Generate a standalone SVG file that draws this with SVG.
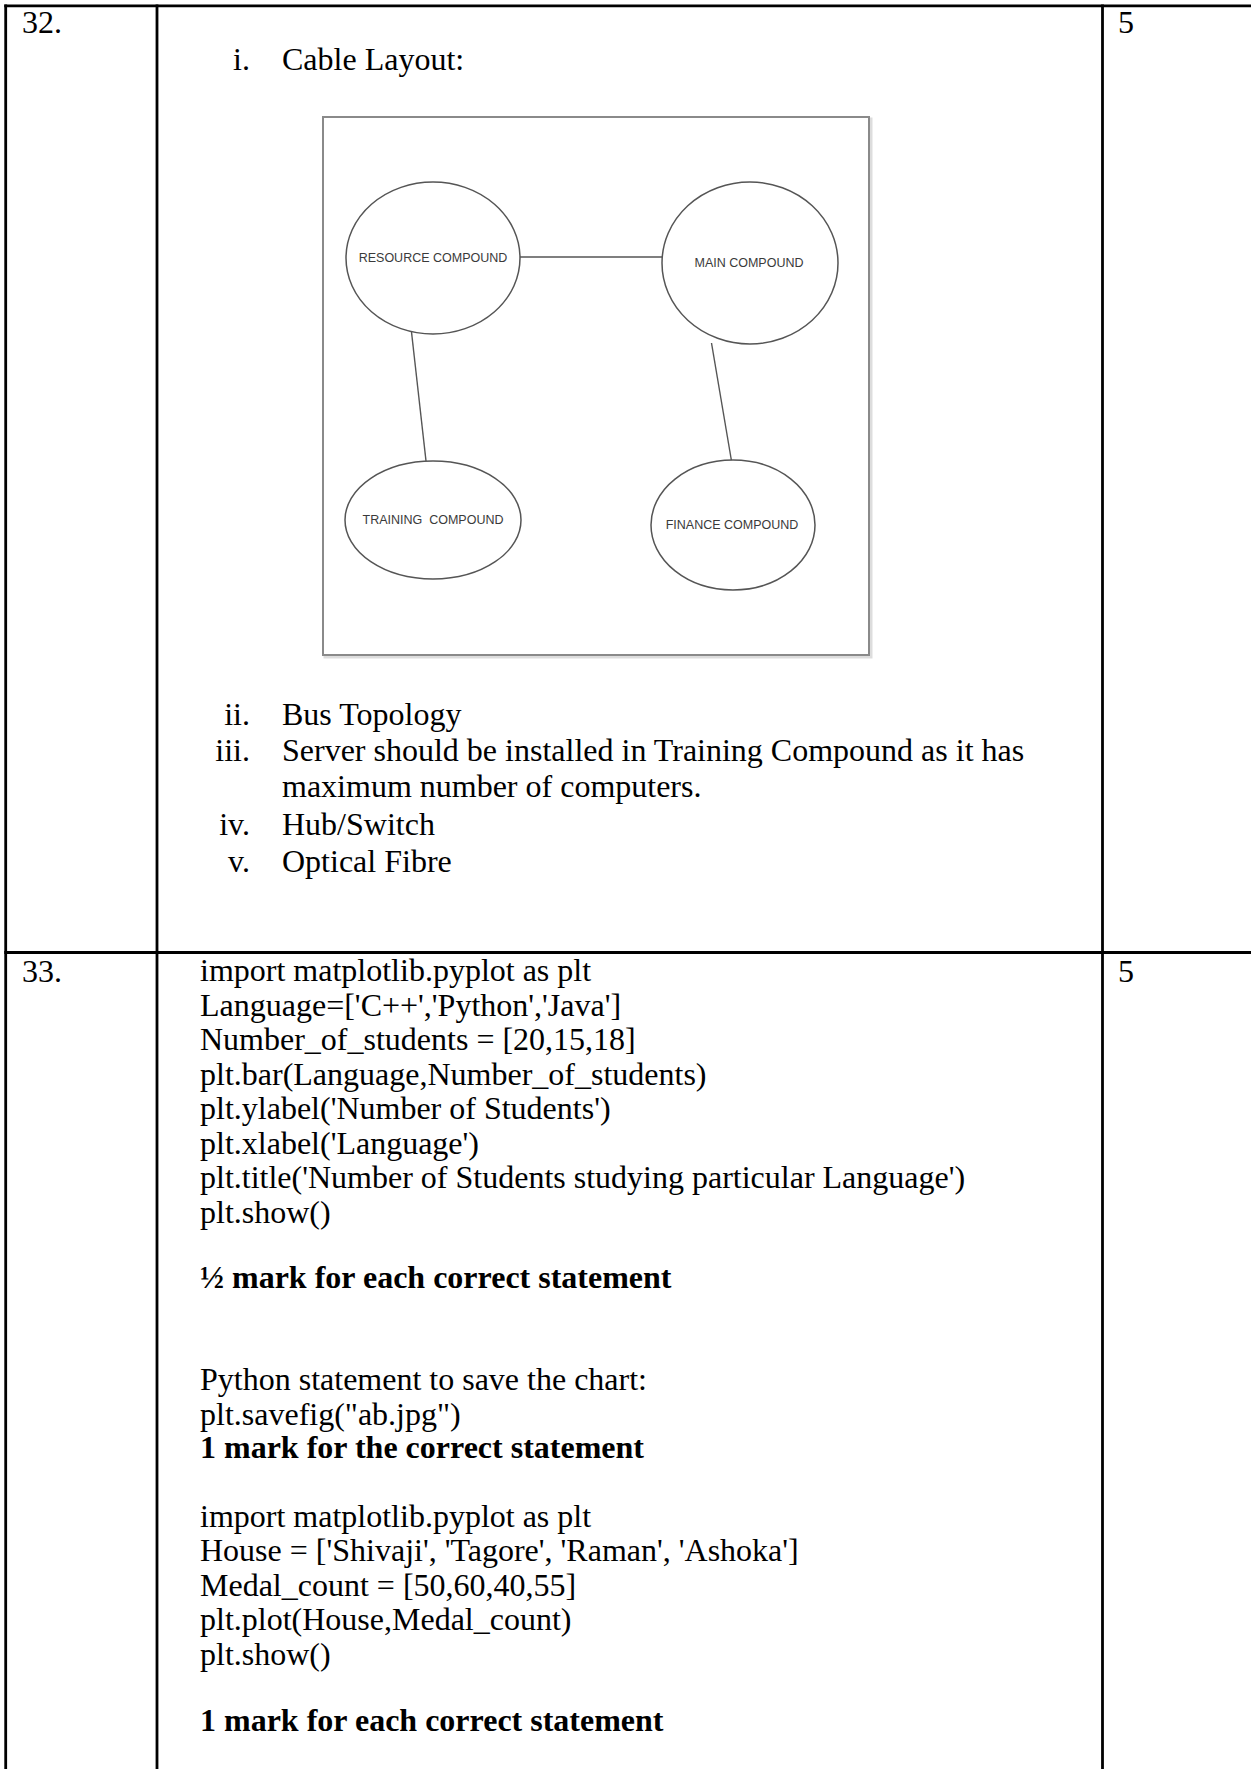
<svg xmlns="http://www.w3.org/2000/svg" width="1251" height="1769" viewBox="0 0 1251 1769">
<style>
.t{font-family:"Liberation Serif","Times New Roman",serif;font-size:32px;fill:#000}
.b{font-weight:bold}
.num{text-anchor:end}
.grid{stroke:#000;stroke-width:2.8;fill:none}
.lbl{font-family:"Liberation Sans",Arial,sans-serif;font-size:12.5px;fill:#3a3a3a;text-anchor:middle;white-space:pre}
.node{fill:#fff;stroke:#555;stroke-width:1.5}
.conn{stroke:#555;stroke-width:1.4;fill:none}
</style>
<rect width="1251" height="1769" fill="#fff"/>
<g id="table">
<line class="grid" x1="4.3" y1="5.8" x2="1251" y2="5.8"/>
<line class="grid" x1="5.7" y1="4.4" x2="5.7" y2="1769"/>
<line class="grid" x1="157" y1="4.4" x2="157" y2="1769"/>
<line class="grid" x1="1102.5" y1="4.4" x2="1102.5" y2="1769"/>
<line class="grid" x1="4.3" y1="952.5" x2="1251" y2="952.5"/>
</g>
<g id="row32">
<text class="t" x="22" y="33">32.</text>
<text class="t" x="1118" y="33">5</text>
<text class="t num" x="250" y="70">i.</text>
<text class="t" x="282" y="70">Cable Layout:</text>
<text class="t num" x="250" y="725">ii.</text>
<text class="t" x="282" y="725">Bus Topology</text>
<text class="t num" x="250" y="761">iii.</text>
<text class="t" x="282" y="761">Server should be installed in Training Compound as it has</text>
<text class="t" x="282" y="797">maximum number of computers.</text>
<text class="t num" x="250" y="835">iv.</text>
<text class="t" x="282" y="835">Hub/Switch</text>
<text class="t num" x="250" y="872">v.</text>
<text class="t" x="282" y="872">Optical Fibre</text>
</g>
<g id="layout-frame">
<rect x="325" y="119" width="546" height="538" fill="none" stroke="#ddd" stroke-width="3"/>
<rect x="323" y="117" width="546" height="538" fill="#fff" stroke="#8a8a8a" stroke-width="2"/>
</g>
<g id="connectors">
<line class="conn" x1="520" y1="257" x2="662" y2="257"/>
<line class="conn" x1="411.5" y1="332" x2="426" y2="461"/>
<line class="conn" x1="711.5" y1="343" x2="731.5" y2="461"/>
</g>
<g id="resource-compound">
<ellipse class="node" cx="433" cy="258" rx="87" ry="76"/>
<text class="lbl" x="433" y="262">RESOURCE COMPOUND</text>
</g>
<g id="main-compound">
<ellipse class="node" cx="750" cy="263" rx="88" ry="81"/>
<text class="lbl" x="749" y="267">MAIN COMPOUND</text>
</g>
<g id="training-compound">
<ellipse class="node" cx="433" cy="520" rx="88" ry="59"/>
<text class="lbl" x="433" y="524">TRAINING  COMPOUND</text>
</g>
<g id="finance-compound">
<ellipse class="node" cx="733" cy="525" rx="82" ry="65"/>
<text class="lbl" x="732" y="529">FINANCE COMPOUND</text>
</g>
<g id="row33">
<text class="t" x="22" y="982">33.</text>
<text class="t" x="1118" y="982">5</text>
<text class="t" x="200" y="981">import matplotlib.pyplot as plt</text>
<text class="t" x="200" y="1016">Language=['C++','Python','Java']</text>
<text class="t" x="200" y="1050">Number_of_students = [20,15,18]</text>
<text class="t" x="200" y="1085">plt.bar(Language,Number_of_students)</text>
<text class="t" x="200" y="1119">plt.ylabel('Number of Students')</text>
<text class="t" x="200" y="1154">plt.xlabel('Language')</text>
<text class="t" x="200" y="1188">plt.title('Number of Students studying particular Language')</text>
<text class="t" x="200" y="1223">plt.show()</text>
<text class="t b" x="200" y="1288">½ mark for each correct statement</text>
<text class="t" x="200" y="1390">Python statement to save the chart:</text>
<text class="t" x="200" y="1425">plt.savefig("ab.jpg")</text>
<text class="t b" x="200" y="1458">1 mark for the correct statement</text>
<text class="t" x="200" y="1527">import matplotlib.pyplot as plt</text>
<text class="t" x="200" y="1561">House = ['Shivaji', 'Tagore', 'Raman', 'Ashoka']</text>
<text class="t" x="200" y="1596">Medal_count = [50,60,40,55]</text>
<text class="t" x="200" y="1630">plt.plot(House,Medal_count)</text>
<text class="t" x="200" y="1665">plt.show()</text>
<text class="t b" x="200" y="1731">1 mark for each correct statement</text>
</g>
</svg>
